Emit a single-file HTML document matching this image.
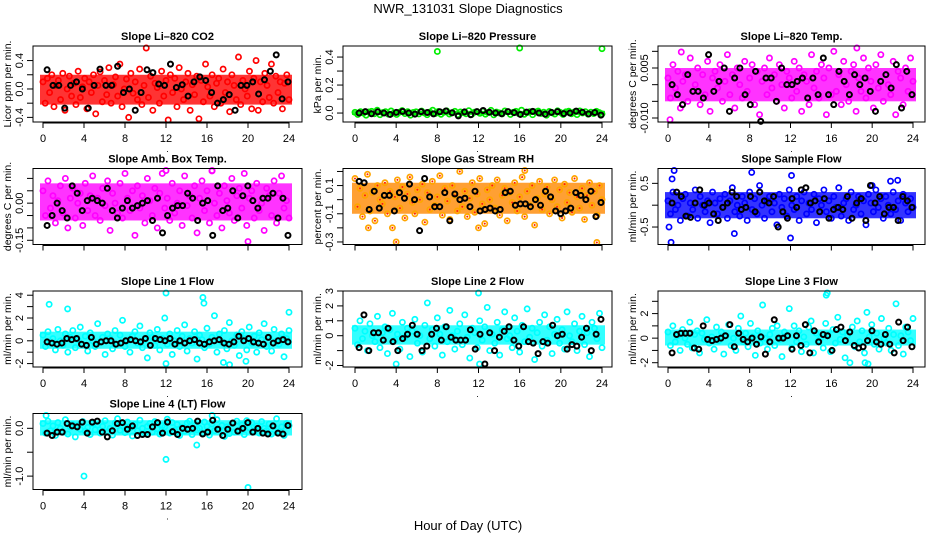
<!DOCTYPE html>
<html><head><meta charset="utf-8"><style>
html,body{margin:0;padding:0;background:#fff}
svg{display:block;font-family:"Liberation Sans",sans-serif}
</style></head><body>
<svg id="chart" width="936" height="540" viewBox="0 0 936 540">
<text x="468" y="13" text-anchor="middle" font-size="13">NWR_131031  Slope Diagnostics</text>
<text x="468" y="530" text-anchor="middle" font-size="13">Hour of Day (UTC)</text>
</svg>
<script>
const hourTicks=[0,4,8,12,16,20,24];
const co2Vals=[0.1,-0.2,0.15,-0.05,0.2,-0.25,0.05,0.12,-0.15,0.22,-0.3,0.0,0.18,-0.1,0.08,-0.22,0.25,-0.12,0.03,0.15,-0.28,0.1,-0.05,0.2,-0.35,0.05,0.24,-0.18,0.12,-0.08,0.3,-0.2,0.06,0.17,-0.1,0.35,-0.25,0.0,0.14,-0.4,0.22,-0.06,0.1,-0.15,0.28,-0.22,0.05,0.6,-0.12,0.18,-0.3,0.08,0.02,-0.2,0.25,-0.1,0.12,-0.45,0.2,-0.05,0.15,-0.25,0.3,0.0,-0.15,0.1,0.22,-0.3,0.06,-0.08,0.18,-0.42,0.12,-0.18,0.35,0.03,-0.1,0.2,-0.25,0.08,0.15,-0.2,0.28,-0.05,0.1,-0.32,0.2,0.05,-0.15,0.45,-0.22,0.12,0.0,-0.1,0.25,-0.28,0.15,0.4,-0.3,0.1,-0.18,0.22,0.05,-0.12,0.35,-0.2,0.18,-0.05,0.1,-0.28,0.08,0.2,-0.15];
const co2Black=[0.27,0.05,0.05,-0.27,0.05,0.1,0.0,-0.27,0.05,0.28,0.05,0.05,0.32,-0.05,0.0,-0.3,-0.05,0.27,0.23,0.07,0.05,0.35,0.02,0.06,-0.1,0.1,0.17,0.12,-0.05,-0.2,-0.15,-0.08,-0.3,0.05,0.05,0.1,-0.07,0.13,0.25,0.48,-0.14,0.1];
const co2Extra=[];
const co2Band=[-0.22,0.2];
const presVals=[0.005,-0.01,0.01,0,-0.015,0.008,0.012,-0.005,0.02,-0.012,0.003,0.01,-0.008,0.015,0,-0.01,0.006,0.018,-0.004,0.01,-0.015,0.004,0.009,-0.006,0.014,0.001,-0.012,0.007,0.02,-0.003,0.011,-0.009,0.005,0.016,-0.007,0.002,0.012,-0.011,0.008,0.003,-0.005,0.017,-0.01,0.006,0.01,-0.002,0.013,-0.008,0.004,0.019,-0.013,0.007,0.001,-0.006,0.015,0.009,-0.01,0.005,0.012,-0.004,0.02,-0.009,0.003,0.01,-0.012,0.008,0.014,-0.003,0.006,-0.015,0.011,0.002,-0.007,0.016,0.004,-0.01,0.009,0.013,-0.005,0.007,-0.011,0.015,0.001,0.01,-0.008,0.006,-0.004,0.012,0.003,-0.006];
const presBlack=[0.0,0.01,-0.005,0.008,0.0,-0.01,0.005,0.012,0.0,-0.008,0.01,0.004,-0.006,0.009,0.015,0.002,-0.02,0.008,-0.012,0.01,0.018,0.006,0.0,-0.005,0.01,0.003,-0.01,0.007,0.012,0.0,-0.008,0.005,0.01,-0.004,0.0,0.014,0.006,-0.006,0.004,-0.015];
const presExtra=[[8,0.44],[16,0.47],[24,0.46]];
const presBand=[-0.014,0.016];
const tempVals=[0.002,-0.004,0.006,-0.001,0.004,-0.007,0.001,0.003,-0.005,0.008,-0.002,0.0,0.005,-0.006,0.003,-0.003,0.007,-0.008,0.002,0.004,-0.001,0.006,-0.005,0.001,0.009,-0.003,0.003,-0.007,0.005,0.0,-0.004,0.007,-0.002,0.002,0.006,-0.006,0.004,-0.009,0.001,0.005,-0.003,0.008,-0.001,0.003,-0.005,0.006,0.0,-0.007,0.004,0.002,-0.004,0.007,-0.002,0.005,-0.008,0.003,0.001,-0.006,0.009,-0.001,0.004,-0.004,0.006,0.002,-0.009,0.005,-0.003,0.01,-0.002,0.003,-0.006,0.007,0.0,-0.005,0.004,0.006,-0.008,0.002,-0.002,0.008,-0.004,0.005,0.001,-0.007,0.006,-0.001,0.009,-0.005,0.003,0.0,-0.003,0.007,-0.009,0.004,0.002,-0.006,0.005,-0.002,0.008,0.001];
const tempBlack=[0.0,-0.003,-0.006,0.003,-0.002,-0.002,-0.004,0.009,-0.002,0.001,0.005,-0.008,0.002,0.005,-0.003,-0.006,0.004,-0.011,0.002,0.002,-0.005,0.005,0.0,0.0,0.001,0.002,-0.004,0.002,-0.003,0.008,-0.003,-0.006,0.004,0.001,-0.003,0.003,0.0,0.002,-0.002,-0.008,0.001,0.003,-0.001,0.006,-0.007,0.004,-0.003];
const tempExtra=[[0.2,-0.0105],[1.3,0.0098],[18.5,0.011]];
const tempBand=[-0.005,0.005];
const ambVals=[0.05,-0.05,0.09,-0.02,0.03,-0.08,0.01,0.07,-0.04,0.1,-0.1,0.02,0.06,-0.06,0.0,0.04,-0.09,0.08,-0.03,0.03,0.11,-0.05,0.02,-0.07,0.06,-0.01,0.09,-0.11,0.04,0.0,-0.04,0.08,-0.06,0.12,0.02,-0.03,0.05,-0.13,0.07,-0.02,0.03,-0.08,0.1,0.01,-0.05,0.06,-0.1,0.04,0.12,-0.02,0.02,-0.07,0.08,-0.04,0.0,0.05,-0.09,0.11,-0.01,0.03,-0.06,0.07,-0.12,0.02,0.09,-0.03,0.05,-0.08,0.13,0.0,-0.05,0.04,-0.1,0.07,0.01,-0.04,0.1,-0.07,0.03,0.06,-0.02,0.12,-0.09,0.02,0.05,-0.06,0.08,-0.03,0.0,-0.11,0.06,0.03,-0.05,0.09,-0.08,0.04,0.11,-0.02,0.01,-0.06];
const ambBlack=[-0.09,-0.05,0.0,-0.03,-0.06,0.07,0.04,-0.03,0.01,0.02,0.01,0.0,0.06,-0.03,-0.06,-0.02,0.01,-0.02,-0.01,0.0,0.01,-0.07,0.02,-0.12,-0.05,-0.02,-0.01,-0.01,0.04,0.02,-0.07,0.0,0.01,-0.13,0.07,-0.03,-0.02,0.05,-0.06,0.03,0.07,0.01,-0.02,0.02,0.02,0.04,-0.06,0.02,-0.13];
const ambExtra=[[12,0.14],[16.5,0.14],[20,-0.155]];
const ambBand=[-0.07,0.08];
const rhVals=[0.15,-0.05,0.08,-0.12,0.03,0.18,-0.08,0.05,-0.15,0.1,0.0,-0.03,0.12,-0.1,0.06,-0.2,0.02,0.14,-0.06,0.09,-0.13,0.04,0.16,-0.02,-0.1,0.07,0.0,0.11,-0.16,0.05,-0.07,0.13,-0.04,0.02,0.17,-0.11,0.08,-0.01,-0.14,0.1,0.03,-0.08,0.2,-0.05,0.06,-0.12,0.01,0.12,-0.09,0.04,0.15,-0.03,-0.17,0.07,0.0,0.1,-0.06,0.14,-0.11,0.03,0.08,-0.15,0.05,-0.02,0.12,-0.08,0.02,0.16,-0.12,0.06,-0.04,0.1,-0.18,0.01,0.13,-0.07,0.04,0.09,-0.1,0.0,0.14,-0.05,0.07,-0.13,0.11,-0.02,0.05,-0.09,0.15,0.02,-0.06,0.08,-0.14,0.03,0.12,-0.04,0.06,-0.11,0.1,0.0];
const rhBlack=[0.13,0.12,-0.07,0.06,-0.06,0.03,0.03,-0.08,0.05,0.01,0.11,0.0,-0.22,0.15,0.02,-0.05,-0.05,0.05,-0.15,0.04,0.0,0.01,-0.05,0.06,-0.08,-0.07,-0.06,-0.08,-0.07,0.05,0.06,-0.04,-0.03,-0.03,-0.05,0.0,-0.04,0.06,0.02,-0.08,-0.1,-0.08,-0.06,0.05,0.03,0.0,0.06,-0.12,-0.02];
const rhExtra=[[4,-0.3],[23.5,-0.32],[1.3,-0.2],[16.5,0.22],[12,-0.2]];
const rhBand=[-0.1,0.12];
const flowVals=[0.1,-0.2,0.3,-0.1,0.0,-0.35,0.15,0.25,-0.25,0.05,-0.1,0.35,-0.3,0.2,0.0,-0.15,0.1,-0.4,0.3,0.05,-0.2,0.15,-0.05,0.25,-0.3,0.1,0.4,-0.15,0.0,-0.25,0.2,0.05,-0.35,0.3,-0.1,0.15,-0.2,0.45,0.0,-0.3,0.1,0.2,-0.15,0.05,-0.45,0.25,-0.05,0.15,-0.25,0.35,0.0,-0.1,0.2,-0.35,0.1,0.3,-0.2,0.05,-0.1,0.25,-0.4,0.15,0.0,0.35,-0.15,0.1,-0.3,0.2,-0.05,0.4,-0.25,0.05,0.15,-0.35,0.3,-0.1,0.0,0.2,-0.2,0.1,-0.45,0.25,0.05,-0.15,0.35,-0.05,0.15,-0.3,0.2,0.0,-0.2,0.3,-0.1,0.1,-0.35,0.25,0.05,-0.15,0.15,-0.05];
const flowBlack=[0.05,0.3,0.2,-0.25,-0.28,0.05,0.35,0.0,0.05,-0.2,-0.35,-0.05,0.05,0.3,0.2,-0.1,-0.05,0.2,-0.15,0.3,0.1,0.05,0.2,-0.5,-0.15,-0.3,0.15,-0.05,0.35,0.4,0.05,0.1,-0.15,0.15,-0.3,-0.1,-0.05,-0.1,0.2,-0.3,0.05,0.15,-0.35,0.45,0.05,0.2,-0.2,-0.05,-0.05,-0.35,0.2,0.1,-0.05];
const flowExtra=[[0.6,0.8],[0.4,0.6],[0.3,-0.85],[6.5,-0.65],[8.2,0.75],[12,-0.75],[12.1,0.68],[20,0.45],[22.5,0.57],[21.8,0.55],[0.1,-0.5]];
const flowBand=[-0.3,0.3];
const l1Vals=[0.5,-0.5,0.8,-0.2,0.2,-0.8,1.0,0.0,-0.4,0.6,-1.0,0.3,0.9,-0.6,0.1,1.2,-0.3,0.4,-0.9,0.7,0.0,-0.5,1.5,-0.1,0.3,-1.2,0.6,0.2,-0.7,0.9,-0.3,0.5,1.8,-0.5,0.0,-1.0,0.4,0.8,-0.2,1.3,-0.6,0.1,-1.5,0.7,0.3,-0.4,1.0,-0.8,0.2,2.0,-0.3,0.6,-1.2,0.0,0.9,-0.5,0.4,1.4,-0.9,0.2,-0.2,0.8,-1.6,0.5,0.1,-0.6,1.1,-0.3,0.3,2.2,-1.0,0.6,-0.1,0.9,-0.7,1.6,0.0,-0.4,0.5,-1.3,0.8,0.2,-0.8,1.2,-0.2,0.4,-1.0,0.7,0.1,1.5,-0.5,0.3,-0.9,1.0,0.0,-0.3,0.6,-1.4,0.2,0.9];
const l1Black=[-0.1,-0.2,-0.3,-0.2,0.2,0.1,0.2,-0.3,-0.4,0.3,-0.3,-0.1,0.0,0.0,-0.3,-0.2,0.0,0.1,0.0,-0.1,0.2,-0.4,0.2,0.1,0.0,0.2,-0.3,0.0,-0.2,0.0,0.1,-0.2,-0.3,-0.1,0.0,0.1,-0.2,-0.3,-0.1,0.4,0.0,0.2,-0.1,-0.2,-0.3,0.3,-0.2,0.0,0.1,-0.1];
const l1Extra=[[0.6,3.2],[2.4,2.8],[12,4.2],[15.6,3.8],[15.7,3.3],[24,2.5],[12,-2.0],[18.2,-2.1],[17.6,-1.9],[19.8,-1.8]];
const l1Band=[-0.7,0.8];
const l2Vals=[0.5,-0.6,1.0,-0.2,0.3,-1.0,0.8,0.0,-0.4,1.3,-0.8,0.2,0.6,-1.2,0.4,1.5,-0.3,0.1,-0.9,0.9,-0.1,0.5,-1.4,0.3,1.1,-0.5,0.0,-1.1,0.7,2.2,-0.2,0.4,-0.7,1.2,0.1,-1.3,0.6,-0.4,1.7,0.0,-0.9,0.3,0.8,-0.6,1.4,-0.1,-1.5,0.5,0.2,-0.8,1.0,-0.3,0.6,1.9,-1.0,0.1,-0.5,0.9,-1.3,0.4,1.6,-0.2,0.0,-0.8,1.2,0.3,-1.1,0.7,-0.4,1.8,-0.1,0.5,-1.6,0.2,0.9,-0.7,1.4,-0.3,0.6,-1.2,0.1,1.1,-0.5,0.4,-0.9,1.6,0.0,-0.4,0.8,-1.0,0.3,1.3,-0.6,0.2,-1.4,0.9,0.5,-0.2,1.5,-0.8];
const l2Black=[-0.8,1.4,-1.0,0.2,0.2,-0.3,0.5,-0.4,-1.0,-0.2,0.1,0.7,0.1,-1.0,-0.7,0.1,0.5,-0.3,0.6,-0.1,-0.3,-0.3,-0.3,0.4,-0.9,0.1,-1.9,0.2,-1.0,-0.1,0.3,0.6,-0.3,-0.7,0.6,-0.4,-0.5,-1.2,-0.4,-0.5,0.7,0.0,0.1,-0.9,-0.6,-0.7,-0.1,0.5,-1.0,0.1,1.1];
const l2Extra=[[12,2.9],[4,-1.9],[12.1,-1.9]];
const l2Band=[-0.6,0.7];
const l3Vals=[0.5,-0.6,1.0,-0.3,0.2,-1.0,0.7,0.0,-0.5,1.3,-0.8,0.3,0.6,-1.2,0.4,-0.1,1.5,-0.4,0.1,-0.9,0.9,-0.2,0.5,-1.3,0.2,1.1,-0.6,0.0,-1.0,0.8,1.8,-0.3,0.4,-0.7,1.2,0.1,-1.4,0.6,-0.4,2.7,0.0,-0.9,0.3,0.8,-0.6,1.0,-0.1,-1.5,0.5,0.2,2.4,-0.8,1.0,-0.3,0.6,-1.1,0.1,-0.5,0.9,1.4,-1.2,0.4,-0.2,0.0,-0.8,1.2,0.3,-1.1,0.7,-0.4,1.7,-0.1,0.5,-1.6,0.2,-2.0,0.9,-0.7,1.4,-0.3,0.6,-1.2,2.1,0.1,1.1,-0.5,0.4,-0.9,1.6,0.0,-0.4,0.8,-1.0,0.3,2.8,-0.6,0.2,-1.3,0.9,0.5,-0.2,1.6];
const l3Black=[-1.2,0.3,0.4,0.4,0.4,-0.8,-0.9,1.0,-0.1,-0.2,-0.1,0.0,0.2,1.1,-0.7,0.4,-0.1,-0.3,0.0,-0.5,0.1,-1.3,-0.3,1.5,0.0,0.0,0.2,-0.9,0.2,-0.6,1.1,-1.2,0.6,-0.3,0.3,0.2,-1.0,0.7,0.9,-0.2,0.5,-0.6,-0.8,-0.7,-0.2,0.6,-0.3,-0.5,0.3,-0.5,-1.2,1.3,-0.2,0.9,-0.7];
const l3Extra=[[15.5,3.5],[15.6,3.7],[19.3,-2.0],[19.6,-2.1]];
const l3Band=[-0.6,0.7];
const l4Vals=[0.1,-0.1,0.15,-0.05,0.05,-0.15,0.12,0.0,-0.08,0.18,-0.12,0.03,0.08,-0.18,0.06,-0.02,0.14,-0.06,0.02,-0.13,0.1,-0.03,0.07,-0.1,0.04,0.16,-0.07,0.0,-0.14,0.11,0.2,-0.04,0.05,-0.09,0.13,0.01,-0.16,0.08,-0.05,0.17,0.0,-0.11,0.04,0.1,-0.08,0.14,-0.01,-0.12,0.06,0.03,0.19,-0.1,0.12,-0.04,0.08,-0.15,0.02,-0.06,0.11,0.15,-0.13,0.05,-0.03,0.0,-0.1,0.13,0.04,-0.14,0.09,-0.05,0.18,-0.02,0.06,-0.17,0.03,-0.11,0.1,-0.08,0.15,-0.04,0.07,-0.13,0.16,0.01,0.12,-0.06,0.05,-0.1,0.14,0.0,-0.05,0.09,-0.12,0.04,0.2,-0.07,0.03,-0.15,0.1,0.06];
const l4Black=[-0.1,-0.15,-0.08,-0.08,0.1,0.05,0.03,0.13,-0.1,0.13,0.15,-0.08,-0.18,-0.05,0.1,0.12,-0.02,0.05,-0.15,-0.13,-0.13,0.03,0.12,-0.1,0.13,-0.07,-0.13,0.0,-0.02,0.0,0.15,-0.12,-0.08,0.17,-0.02,-0.15,-0.02,0.11,-0.06,0.0,0.12,-0.08,0.0,-0.1,-0.12,0.05,-0.1,-0.12,0.06];
const l4Extra=[[0.3,0.3],[4,-1.0],[12,-0.65],[15,-0.35],[16.5,0.3],[20,-1.32]];
const l4Band=[-0.15,0.17];

const cols=[{l:33,r:302,x0:43,x1:289},{l:343,r:612,x0:355,x1:602},{l:658,r:925,x0:668,x1:913}];
const rowsTop=[46,168.5,291,413.5];const H=76;
const panels=[
 {id:'co2',t:'Slope Li\u2013820 CO2',yl:'Licor ppm per min.',c:0,r:0,ymin:-0.465,ymax:0.605,ticks:[-0.4,-0.2,0,0.2,0.4],labs:{'-0.4':'-0.4','0':'0.0','0.4':'0.4'},v:co2Vals,b:co2Black,e:co2Extra,band:co2Band,col:'#ff0000',xl:true},
 {id:'pressure',t:'Slope Li\u2013820 Pressure',yl:'kPa per min.',c:1,r:0,ymin:-0.064,ymax:0.479,ticks:[0,0.1,0.2,0.3,0.4],labs:{'0':'0.0','0.2':'0.2','0.4':'0.4'},v:presVals,b:presBlack,e:presExtra,band:presBand,col:'#00ee00',xl:true},
 {id:'li820-temp',t:'Slope Li\u2013820 Temp.',yl:'degrees C per min.',c:2,r:0,ymin:-0.0112,ymax:0.0116,ticks:[-0.01,-0.005,0,0.005,0.01],labs:{'-0.01':'-0.010','0.005':'0.005'},v:tempVals,b:tempBlack,e:tempExtra,band:tempBand,col:'#ff00ff',xl:true},
 {id:'amb-box-temp',t:'Slope Amb. Box Temp.',yl:'degrees C per min.',c:0,r:1,ymin:-0.167,ymax:0.14,ticks:[-0.15,-0.1,-0.05,0,0.05,0.1],labs:{'-0.15':'-0.15','0':'0.00'},v:ambVals,b:ambBlack,e:ambExtra,band:ambBand,col:'#ff00ff',xl:false},
 {id:'gas-stream-rh',t:'Slope Gas Stream RH',yl:'percent per min.',c:1,r:1,ymin:-0.318,ymax:0.221,ticks:[-0.3,-0.2,-0.1,0,0.1,0.2],labs:{'-0.3':'-0.3','-0.1':'-0.1','0.1':'0.1'},v:rhVals,b:rhBlack,e:rhExtra,band:rhBand,col:'#ffa500',col2:'#ff2000',bandCol:'#ff8800',xl:false},
 {id:'sample-flow',t:'Slope Sample Flow',yl:'ml/min per min.',c:2,r:1,ymin:-0.9,ymax:0.84,ticks:[-0.5,0,0.5],labs:{'-0.5':'-0.5','0.5':'0.5'},v:flowVals,b:flowBlack,e:flowExtra,band:flowBand,col:'#0000ff',xl:false},
 {id:'line1-flow',t:'Slope Line 1 Flow',yl:'ml/min per min.',c:0,r:2,ymin:-2.3,ymax:4.37,ticks:[-2,-1,0,1,2,3,4],labs:{'-2':'-2','0':'0','2':'2','4':'4'},v:l1Vals,b:l1Black,e:l1Extra,band:l1Band,col:'#00ffff',xl:true},
 {id:'line2-flow',t:'Slope Line 2 Flow',yl:'ml/min per min.',c:1,r:2,ymin:-2.1,ymax:3.0,ticks:[-2,-1,0,1,2,3],labs:{'-2':'-2','0':'0','1':'1','2':'2','3':'3'},v:l2Vals,b:l2Black,e:l2Extra,band:l2Band,col:'#00ffff',xl:true},
 {id:'line3-flow',t:'Slope Line 3 Flow',yl:'ml/min per min.',c:2,r:2,ymin:-2.35,ymax:3.84,ticks:[-2,-1,0,1,2,3],labs:{'-2':'-2','0':'0','2':'2'},v:l3Vals,b:l3Black,e:l3Extra,band:l3Band,col:'#00ffff',xl:true},
 {id:'line4-flow',t:'Slope Line 4 (LT) Flow',yl:'ml/min per min.',c:0,r:3,ymin:-1.28,ymax:0.31,ticks:[-1,-0.5,0],labs:{'-1':'-1.0','0':'0.0'},v:l4Vals,b:l4Black,e:l4Extra,band:l4Band,col:'#00ffff',xl:true}
];
const svg=document.getElementById('chart');const NS='http://www.w3.org/2000/svg';
function mk(tag,attrs,parent){const e=document.createElementNS(NS,tag);for(const k in attrs)e.setAttribute(k,attrs[k]);(parent||svg).appendChild(e);return e;}
panels.forEach(p=>{
 const C=cols[p.c],top=rowsTop[p.r],bot=top+H;
 const g=mk('g',{});
 
 
 const xs=h=>C.x0+(C.x1-C.x0)*h/24;
 const ys=v=>bot-(v-p.ymin)/(p.ymax-p.ymin)*H;
 const tt=mk('text',{x:(C.l+C.r)/2,y:top-6,'text-anchor':'middle','font-size':11,'font-weight':'bold'},g);tt.textContent=p.t;
 
 
 const bd=mk('rect',{x:xs(0)-3,y:ys(p.band[1]),width:xs(24)-xs(0)+6,height:ys(p.band[0])-ys(p.band[1]),fill:p.bandCol||p.col,opacity:0.8},g);
 
 
 const pts=mk('g',{fill:'none','stroke-width':1.7},g);
 
 
 const n=p.v.length;
 const draw=(h,v,col)=>{const cy=Math.max(top+2,Math.min(bot-2,ys(v)));const c=mk('circle',{cx:xs(h),cy:cy,r:2.6,stroke:col},pts);
  
  
  if(p.col2){mk('circle',{cx:xs(h),cy:cy,r:1,fill:p.col2,stroke:'none'},pts);}};
 p.v.forEach((v,i)=>draw(i*24/(n-1),v,p.col));
 p.e.forEach(pr=>draw(pr[0],pr[1],p.col));
 const bk=mk('g',{fill:'none',stroke:'#000','stroke-width':2},g);
 
 
 const m=p.b.length;
 p.b.forEach((v,i)=>{const c=mk('circle',{cx:xs(0.4+i*23.5/(m-1)),cy:ys(v),r:2.5},bk);
  
  });
 const box=mk('rect',{x:C.l,y:top,width:C.r-C.l,height:H,fill:'none',stroke:'#000','stroke-width':1},g);
 
 
 const xa=mk('g',{stroke:'#000','stroke-width':1},g);
 
 
 mk('line',{x1:xs(0),x2:xs(24),y1:bot+1,y2:bot+1},xa);
 hourTicks.forEach(h=>{mk('line',{x1:xs(h),x2:xs(h),y1:bot,y2:bot+6},xa);
  if(p.xl){const t=mk('text',{x:xs(h),y:bot+20,'text-anchor':'middle','font-size':11,stroke:'none'},xa);t.textContent=h;}});
 if(p.xl){const d=mk('text',{x:(C.l+C.r)/2,y:bot+30,'text-anchor':'middle','font-size':9,stroke:'none'},xa);d.textContent='.';}
 const ya=mk('g',{stroke:'#000','stroke-width':1},g);
 
 
 p.ticks.forEach(tv=>{const y=ys(tv);mk('line',{x1:C.l-6,x2:C.l,y1:y,y2:y},ya);
  const lab=p.labs[String(tv)];if(lab!==undefined){const t=mk('text',{x:C.l-10,y:y,'text-anchor':'middle','font-size':11,stroke:'none',transform:`rotate(-90 ${C.l-10} ${y})`},ya);t.textContent=lab;}});
 const yt=mk('text',{x:C.l-22,y:top+H/2,'text-anchor':'middle','font-size':10.5,transform:`rotate(-90 ${C.l-22} ${top+H/2})`},g);yt.textContent=p.yl;
 
 
});
</script>
</body></html>
